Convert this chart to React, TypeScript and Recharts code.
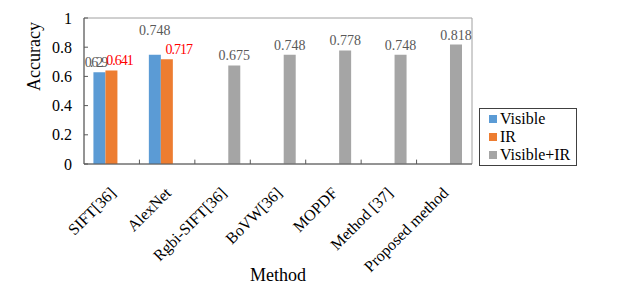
import { BarChart, Bar, XAxis, YAxis, Legend, LabelList, ReferenceArea, ReferenceLine } from 'recharts'

const methods = ['SIFT[36]', 'AlexNet', 'Rgbi-SIFT[36]', 'BoVW[36]', 'MOPDF', 'Method [37]', 'Proposed method']
const visible = [0.629, 0.748, null, null, null, null, null]
const ir = [0.641, 0.717, null, null, null, null, null]
const fused = [null, null, 0.675, 0.748, 0.778, 0.748, 0.818]
const yTicks = [0, 0.2, 0.4, 0.6, 0.8, 1]

const data = methods.map((m, i) => ({ method: m, visible: visible[i], ir: ir[i], fused: fused[i] }))

const FONT = '"Liberation Serif", "Times New Roman", serif'
const AXIS = '#595959'
const SERIES = [
  { key: 'visible', name: 'Visible', color: '#5B9BD5', label: '#595959' },
  { key: 'ir', name: 'IR', color: '#ED7D31', label: '#FF0000' },
  { key: 'fused', name: 'Visible+IR', color: '#A5A5A5', label: '#595959' },
]

// the first two groups have crowded labels, nudged as in the original figure
function valueLabel(seriesKey: string, color: string) {
  return (props: any) => {
    const { x, y, width, value, index } = props
    if (value == null) return null
    let dx = 0
    let dy = 0
    let spacing = 0
    if (seriesKey === 'visible' && index === 0) { dx = -4; spacing = -2 }
    if (seriesKey === 'visible' && index === 1) dy = -15
    if (seriesKey === 'ir') { dx = index === 0 ? 8 : 12; spacing = -1 }
    return (
      <text x={x + width / 2 + dx} y={y - 5 + dy} textAnchor="middle" fill={color} fontSize={14} fontFamily={FONT} letterSpacing={spacing}>
        {value}
      </text>
    )
  }
}

function MethodTick({ x, y, payload }: any) {
  return (
    <text x={0} y={0} transform={`translate(${x + 5},${y + 22}) rotate(-45)`} textAnchor="end" fontSize={16} fontFamily={FONT} fill="#000">
      {payload.value}
    </text>
  )
}

function BoxLegend() {
  return (
    <div style={{ border: '1px solid #404040', background: '#fff', padding: '1px 4px 1px 9px', fontFamily: FONT, fontSize: 16, lineHeight: '18px', boxSizing: 'border-box', textAlign: 'left' }}>
      {SERIES.map((s) => (
        <div key={s.key} style={{ display: 'flex', alignItems: 'center' }}>
          <span style={{ width: 8, height: 8, background: s.color, display: 'inline-block', marginRight: 3 }} />
          <span>{s.name}</span>
        </div>
      ))}
    </div>
  )
}

export default function App() {
  return (
    <div style={{ position: 'absolute', left: 0, top: 0, background: '#fff' }}>
      <BarChart width={621} height={291} data={data} margin={{ top: 18, right: 51, left: 34, bottom: 7 }} barGap={0} barCategoryGap="17%">
        <ReferenceArea y1={0} y2={1} fill="none" stroke="#A0A0A0" strokeWidth={1} ifOverflow="visible" />
        {methods.slice(1).map((m) => (
          <ReferenceLine key={m} position="start" segment={[{ x: m, y: 0 }, { x: m, y: 0.03 }]} stroke={AXIS} />
        ))}
        <XAxis dataKey="method" interval={0} tick={<MethodTick />} height={120} stroke={AXIS} tickLine={false}
          label={{ value: 'Method', position: 'insideBottom', offset: 3, fontSize: 18, fontFamily: FONT, fill: '#000' }} />
        <YAxis domain={[0, 1]} ticks={yTicks} width={50} stroke={AXIS} tickSize={-4} tick={{ fontSize: 16, fontFamily: FONT, fill: '#000', dx: -14 }}
          label={{ value: 'Accuracy', angle: -90, position: 'insideLeft', offset: 0, fontSize: 18, fontFamily: FONT, fill: '#000' }} />
        <Legend layout="vertical" verticalAlign="middle" align="right" content={<BoxLegend />} wrapperStyle={{ left: 479, top: 108, width: 98 }} />
        {SERIES.map((s) => (
          <Bar key={s.key} dataKey={s.key} name={s.name} fill={s.color} isAnimationActive={false}>
            <LabelList dataKey={s.key} content={valueLabel(s.key, s.label)} />
          </Bar>
        ))}
      </BarChart>
    </div>
  )
}
